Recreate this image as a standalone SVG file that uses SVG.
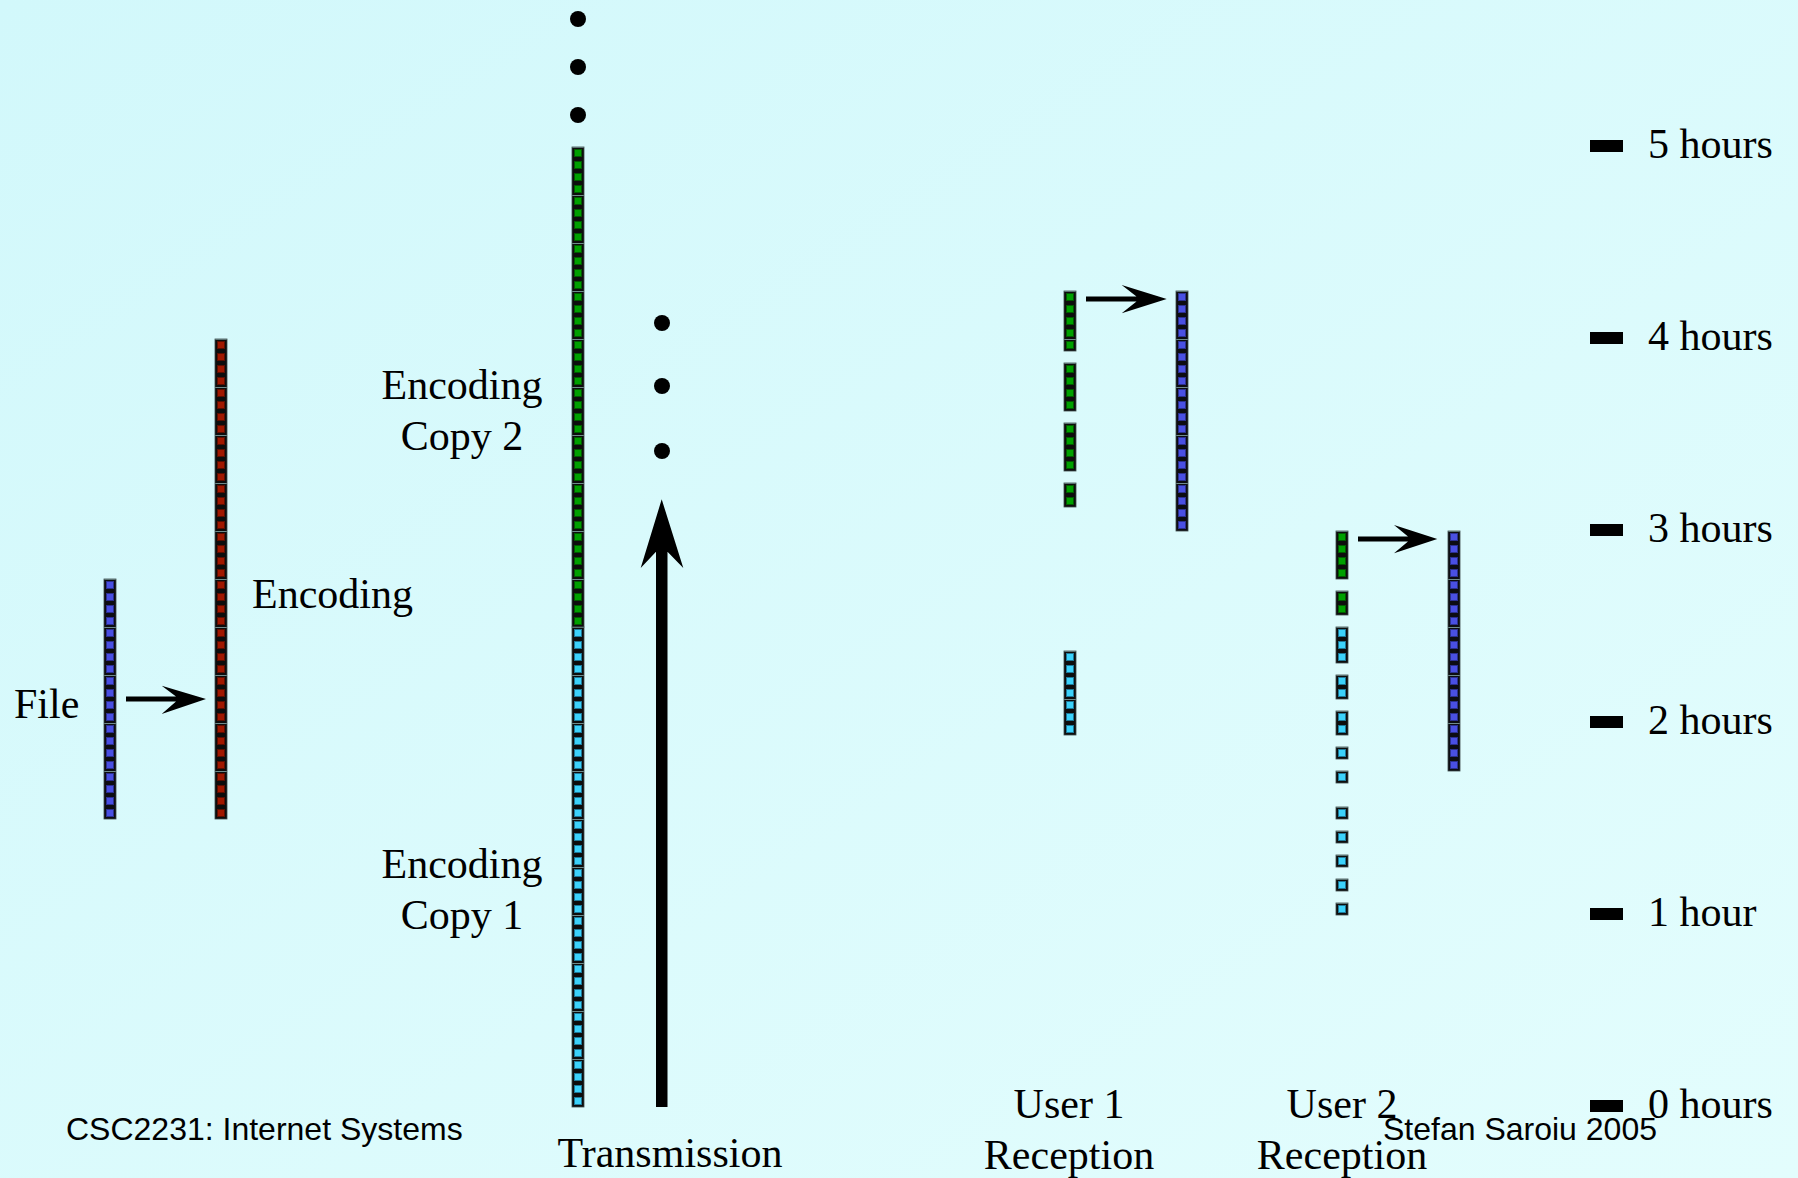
<svg xmlns="http://www.w3.org/2000/svg" width="1798" height="1178" viewBox="0 0 1798 1178">
  <defs>
    <linearGradient id="bg" x1="0" y1="0" x2="1" y2="1">
      <stop offset="0" stop-color="#d2f8fb"/>
      <stop offset="1" stop-color="#e3fdfd"/>
    </linearGradient>
    <!-- block strips: 12px cells, grouped by four with a faint divider -->
    <pattern id="cellBlue" width="12" height="48" patternUnits="userSpaceOnUse">
      <rect width="12" height="48" fill="#0d0d12"/>
      <rect x="2.5" y="2.5" width="7" height="7" class="ib"/>
      <rect x="2.5" y="14.5" width="7" height="7" class="ib"/>
      <rect x="2.5" y="26.5" width="7" height="7" class="ib"/>
      <rect x="2.5" y="38.5" width="7" height="7" class="ib"/>
      <line x1="0" y1="0.5" x2="12" y2="0.5" class="div"/>
    </pattern>
    <pattern id="cellRed" width="12" height="48" patternUnits="userSpaceOnUse">
      <rect width="12" height="48" fill="#0d0d0d"/>
      <rect x="2.5" y="2.5" width="7" height="7" class="ir"/>
      <rect x="2.5" y="14.5" width="7" height="7" class="ir"/>
      <rect x="2.5" y="26.5" width="7" height="7" class="ir"/>
      <rect x="2.5" y="38.5" width="7" height="7" class="ir"/>
      <line x1="0" y1="0.5" x2="12" y2="0.5" class="div"/>
    </pattern>
    <pattern id="cellGreen" width="12" height="48" patternUnits="userSpaceOnUse">
      <rect width="12" height="48" fill="#0d0d0d"/>
      <rect x="2.5" y="2.5" width="7" height="7" class="ig"/>
      <rect x="2.5" y="14.5" width="7" height="7" class="ig"/>
      <rect x="2.5" y="26.5" width="7" height="7" class="ig"/>
      <rect x="2.5" y="38.5" width="7" height="7" class="ig"/>
      <line x1="0" y1="0.5" x2="12" y2="0.5" class="div"/>
    </pattern>
    <pattern id="cellCyan" width="12" height="48" patternUnits="userSpaceOnUse">
      <rect width="12" height="48" fill="#0d0d0d"/>
      <rect x="2.5" y="2.5" width="7" height="7" class="ic"/>
      <rect x="2.5" y="14.5" width="7" height="7" class="ic"/>
      <rect x="2.5" y="26.5" width="7" height="7" class="ic"/>
      <rect x="2.5" y="38.5" width="7" height="7" class="ic"/>
      <line x1="0" y1="0.5" x2="12" y2="0.5" class="div"/>
    </pattern>
  </defs>
  <style>
    .ib { fill: #4a50e2; stroke: #2c3190; stroke-width: 1; }
    .ir { fill: #a01800; stroke: #5c0e00; stroke-width: 1; }
    .ig { fill: #00a000; stroke: #005a00; stroke-width: 1; }
    .ic { fill: #3cd2fa; stroke: #1e7a99; stroke-width: 1; }
    .div { stroke: #6f8c8c; stroke-width: 1; }
    .edge { stroke: #3c4a4a; stroke-width: 0.8; }
    .lbl { font-family: "Liberation Serif", "Times New Roman", serif; font-size: 42px; fill: #000; }
    .mid { text-anchor: middle; }
    .foot { font-family: "Liberation Sans", Arial, sans-serif; font-size: 32px; fill: #000; }
    .arrow { fill: #000; }
    .tick { fill: #000; }
  </style>

  <rect width="1798" height="1178" fill="url(#bg)"/>

  <!-- original file -->
  <g id="file">
    <g transform="translate(104,579)"><rect width="12" height="240" fill="url(#cellBlue)" class="edge"/></g>
    <text class="lbl" x="14" y="718">File</text>
  </g>

  <!-- encoded file -->
  <g id="encoding">
    <g transform="translate(215,339)"><rect width="12" height="480" fill="url(#cellRed)" class="edge"/></g>
    <text class="lbl" x="252" y="608">Encoding</text>
  </g>

  <!-- transmitted stream: copy 1 then copy 2 -->
  <g id="transmission-stream">
    <g transform="translate(572,147)"><rect width="12" height="480" fill="url(#cellGreen)" class="edge"/></g>
    <g transform="translate(572,627)"><rect width="12" height="480" fill="url(#cellCyan)" class="edge"/></g>
    <circle cx="578" cy="19" r="8"/>
    <circle cx="578" cy="67" r="8"/>
    <circle cx="578" cy="115" r="8"/>
    <text class="lbl mid" x="462" y="399">Encoding</text>
    <text class="lbl mid" x="462" y="450">Copy 2</text>
    <text class="lbl mid" x="462" y="878">Encoding</text>
    <text class="lbl mid" x="462" y="929">Copy 1</text>
  </g>

  <g id="transmission">
    <circle cx="662" cy="323" r="8"/>
    <circle cx="662" cy="386" r="8"/>
    <circle cx="662" cy="451" r="8"/>
    <text class="lbl mid" x="670" y="1167">Transmission</text>
  </g>

  <!-- user 1: received blocks and decoded file -->
  <g id="user1-received">
    <g transform="translate(1064,291)"><rect width="12" height="60" fill="url(#cellGreen)" class="edge"/></g>
    <g transform="translate(1064,363)"><rect width="12" height="48" fill="url(#cellGreen)" class="edge"/></g>
    <g transform="translate(1064,423)"><rect width="12" height="48" fill="url(#cellGreen)" class="edge"/></g>
    <g transform="translate(1064,483)"><rect width="12" height="24" fill="url(#cellGreen)" class="edge"/></g>
    <g transform="translate(1064,651)"><rect width="12" height="84" fill="url(#cellCyan)" class="edge"/></g>
    <text class="lbl mid" x="1069" y="1118">User 1</text>
    <text class="lbl mid" x="1069" y="1169">Reception</text>
  </g>
  <g id="user1-decoded">
    <g transform="translate(1176,291)"><rect width="12" height="240" fill="url(#cellBlue)" class="edge"/></g>
  </g>

  <!-- user 2: received blocks and decoded file -->
  <g id="user2-received">
    <g transform="translate(1336,531)"><rect width="12" height="48" fill="url(#cellGreen)" class="edge"/></g>
    <g transform="translate(1336,591)"><rect width="12" height="24" fill="url(#cellGreen)" class="edge"/></g>
    <g transform="translate(1336,627)"><rect width="12" height="36" fill="url(#cellCyan)" class="edge"/></g>
    <g transform="translate(1336,675)"><rect width="12" height="24" fill="url(#cellCyan)" class="edge"/></g>
    <g transform="translate(1336,711)"><rect width="12" height="24" fill="url(#cellCyan)" class="edge"/></g>
    <g transform="translate(1336,747)"><rect width="12" height="12" fill="url(#cellCyan)" class="edge"/></g>
    <g transform="translate(1336,771)"><rect width="12" height="12" fill="url(#cellCyan)" class="edge"/></g>
    <g transform="translate(1336,807)"><rect width="12" height="12" fill="url(#cellCyan)" class="edge"/></g>
    <g transform="translate(1336,831)"><rect width="12" height="12" fill="url(#cellCyan)" class="edge"/></g>
    <g transform="translate(1336,855)"><rect width="12" height="12" fill="url(#cellCyan)" class="edge"/></g>
    <g transform="translate(1336,879)"><rect width="12" height="12" fill="url(#cellCyan)" class="edge"/></g>
    <g transform="translate(1336,903)"><rect width="12" height="12" fill="url(#cellCyan)" class="edge"/></g>
    <text class="lbl mid" x="1342" y="1118">User 2</text>
    <text class="lbl mid" x="1342" y="1169">Reception</text>
  </g>
  <g id="user2-decoded">
    <g transform="translate(1448,531)"><rect width="12" height="240" fill="url(#cellBlue)" class="edge"/></g>
  </g>

  <!-- time axis -->
  <g id="time-axis">
    <rect class="tick" x="1590" y="140" width="33" height="12"/>
    <rect class="tick" x="1590" y="332" width="33" height="12"/>
    <rect class="tick" x="1590" y="524" width="33" height="12"/>
    <rect class="tick" x="1590" y="716" width="33" height="12"/>
    <rect class="tick" x="1590" y="908" width="33" height="12"/>
    <rect class="tick" x="1590" y="1100" width="33" height="12"/>
    <text class="lbl" x="1648" y="158">5 hours</text>
    <text class="lbl" x="1648" y="350">4 hours</text>
    <text class="lbl" x="1648" y="542">3 hours</text>
    <text class="lbl" x="1648" y="734">2 hours</text>
    <text class="lbl" x="1648" y="926">1 hour</text>
    <text class="lbl" x="1648" y="1118">0 hours</text>
  </g>

  <!-- arrows -->
  <g id="connectors">
    <path class="arrow" d="M126,696.5 H176 L161.7,685.7 L206,699 L161.7,714 L176,701.5 H126 Z"/>
    <path class="arrow" d="M1086,296.5 H1136.5 L1121.7,285 L1166.7,299 L1121.7,313.3 L1136.5,301.5 H1086 Z"/>
    <path class="arrow" d="M1358,536.5 H1408 L1394,525 L1437.3,539 L1394,553.3 L1408,541.5 H1358 Z"/>
    <path class="arrow" d="M656,1107 V551.7 L640.7,568 L661.7,499.3 L683.3,568 L667.5,551.7 V1107 Z"/>
  </g>

  <!-- footer -->
  <g id="footer">
    <text class="foot" x="66" y="1140">CSC2231: Internet Systems</text>
    <text class="foot" x="1383" y="1140">Stefan Saroiu 2005</text>
  </g>
</svg>
